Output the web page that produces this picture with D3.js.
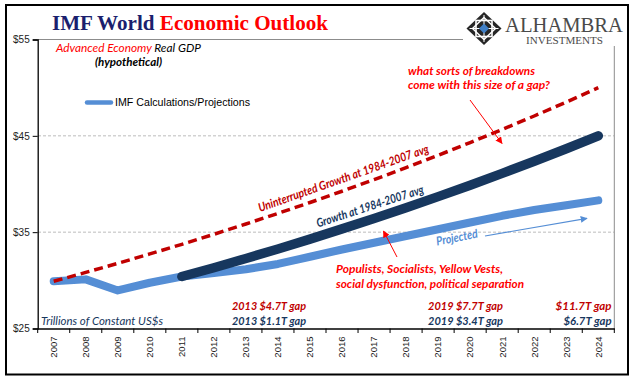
<!DOCTYPE html>
<html><head><meta charset="utf-8">
<script src="https://cdn.jsdelivr.net/npm/d3@7"></script>
<style>body{margin:0;background:#fff;} svg{display:block;}</style>
</head><body>
<script>
// ---- data ----
const years = ["2007","2008","2009","2010","2011","2012","2013","2014","2015","2016","2017","2018","2019","2020","2021","2022","2023","2024"];
const imfProjection = [29.9,30.1,28.95,29.75,30.4,30.75,31.15,31.7,32.45,33.2,33.9,34.6,35.3,36.0,36.7,37.3,37.8,38.3];
const growthAvg = [null,null,null,null,30.4,31.31,32.27,33.26,34.28,35.34,36.42,37.54,38.69,39.88,41.10,42.36,43.66,45.0];
const uninterrupted = [29.9,30.82,31.76,32.74,33.74,34.78,35.85,36.95,38.08,39.25,40.45,41.70,42.98,44.30,45.66,47.06,48.50,50.0];
const yTicks = [25,35,45,55];
const gapLabels2013 = ["2013 $4.7T gap","2013 $1.1T gap"];
const gapLabels2019 = ["2019 $7.7T gap","2019 $3.4T gap"];
const gapLabels2024 = ["$11.7T gap","$6.7T gap"];

const W=641,H=381;
const C = {light:"#558ED5", navy:"#17375E", red:"#C00000", bright:"#FF0000", title:"#1B1F6E"};
const svg = d3.select("body").append("svg").attr("width",W).attr("height",H);

const x = d3.scaleBand().domain(years).range([37.7,614.3]).paddingInner(0).paddingOuter(0);
const xc = d => x(d)+x.bandwidth()/2;
const y = d3.scaleLinear().domain([25,55]).range([328.5,39.5]);

const defs = svg.append("defs");
function marker(id,color){
  defs.append("marker").attr("id",id).attr("viewBox","0 0 10 10").attr("refX",9).attr("refY",5)
   .attr("markerWidth",7).attr("markerHeight",7).attr("markerUnits","userSpaceOnUse").attr("orient","auto")
   .append("path").attr("d","M0,0 L10,5 L0,10 z").attr("fill",color);
}
marker("arrRed",C.bright); marker("arrBlue",C.light);

// outer border
svg.append("rect").attr("x",6).attr("y",5).attr("width",622).attr("height",369.5)
  .attr("fill","none").attr("stroke","#000").attr("stroke-width",2);

// gridlines
svg.append("g").selectAll("line").data([35,45]).join("line")
  .attr("x1",38).attr("x2",614).attr("y1",d=>y(d)).attr("y2",d=>y(d))
  .attr("stroke","#bdbdbd").attr("stroke-dasharray","3,2").attr("stroke-width",1);
// plot frame top/right
svg.append("line").attr("x1",38).attr("x2",614.3).attr("y1",y(55)).attr("y2",y(55)).attr("stroke","#8c8c8c");
svg.append("line").attr("x1",614.3).attr("x2",614.3).attr("y1",y(55)).attr("y2",y(25)).attr("stroke","#8c8c8c");

// y axis
const ya = svg.append("g").attr("transform","translate(37.7,0)")
  .call(d3.axisLeft(y).tickValues(yTicks).tickFormat(d=>"$"+d).tickSize(5).tickPadding(3));
ya.select(".domain").attr("stroke","#000").attr("stroke-width",1.3);
ya.selectAll(".tick line").attr("stroke","#000");
ya.selectAll("text").attr("font-family","Liberation Sans, Arial").attr("font-size",10).attr("fill","#222");

// x axis
const xa = svg.append("g").attr("transform","translate(0,328.5)")
  .call(d3.axisBottom(x).tickSize(0).tickSizeOuter(0));
xa.select(".domain").attr("stroke","#000").attr("stroke-width",1.3);
xa.selectAll("text").attr("font-family","Liberation Sans, Arial").attr("font-size",9.5).attr("fill","#222")
  .attr("transform","rotate(-90)").attr("text-anchor","end").attr("x",-8).attr("y",0).attr("dy","0.35em");
svg.append("g").selectAll("line").data(years.concat(["end"])).join("line")
  .attr("x1",d=>d==="end"?x.range()[1]:x(d)).attr("x2",d=>d==="end"?x.range()[1]:x(d))
  .attr("y1",328.5).attr("y2",333).attr("stroke","#000");

// series
const line = d3.line().defined(d=>d.v!=null).x(d=>xc(d.year)).y(d=>y(d.v));
const mk = arr => years.map((yr,i)=>({year:yr,v:arr[i]}));
svg.append("path").datum(mk(imfProjection)).attr("d",line).attr("fill","none")
  .attr("stroke",C.light).attr("stroke-width",8).attr("stroke-linecap","round").attr("stroke-linejoin","round");
svg.append("path").datum(mk(growthAvg)).attr("d",line).attr("fill","none")
  .attr("stroke",C.navy).attr("stroke-width",9.5).attr("stroke-linecap","round").attr("stroke-linejoin","round");
svg.append("path").datum(mk(uninterrupted)).attr("d",line).attr("fill","none")
  .attr("stroke",C.red).attr("stroke-width",3.5).attr("stroke-dasharray","9,5");

// text helper
function txt(xp,yp,s,o){
  o=o||{};
  const t = svg.append("text").attr("x",xp).attr("y",yp).text(s)
    .attr("font-family",o.family||"Lato, Liberation Sans, sans-serif")
    .attr("font-size",o.size||12).attr("fill",o.fill||"#000")
    .attr("font-style",o.style||"italic").attr("font-weight",o.weight||"bold")
    .attr("text-anchor",o.anchor||"start");
  if(o.len) t.attr("textLength",o.len).attr("lengthAdjust","spacingAndGlyphs");
  if(o.rot!=null) t.attr("transform",`rotate(${o.rot},${xp},${yp})`);
  return t;
}

// title
const tt = svg.append("text").attr("x",52).attr("y",30).attr("font-family","Liberation Serif, Times New Roman, serif")
  .attr("font-size",22).attr("font-weight","bold").attr("textLength",276).attr("lengthAdjust","spacingAndGlyphs");
tt.append("tspan").text("IMF World ").attr("fill",C.title);
tt.append("tspan").text("Economic Outlook").attr("fill",C.bright);

// subtitle
const st = svg.append("text").attr("x",56).attr("y",52).attr("font-family","Lato, Liberation Sans, sans-serif")
  .attr("font-size",12).attr("font-style","italic").attr("textLength",145).attr("lengthAdjust","spacingAndGlyphs");
st.append("tspan").text("Advanced Economy").attr("fill",C.bright);
st.append("tspan").text(" Real GDP").attr("fill","#000");
txt(95,65.5,"(hypothetical)",{size:12,len:67});

// legend
svg.append("line").attr("x1",87).attr("x2",111).attr("y1",102.5).attr("y2",102.5)
  .attr("stroke",C.light).attr("stroke-width",4.5).attr("stroke-linecap","round");
txt(115,106,"IMF Calculations/Projections",{family:"Liberation Sans, Arial",size:10.5,style:"normal",weight:"normal",len:135});

// logo
const lg = svg.append("g");
lg.append("rect").attr("x",463).attr("y",7).attr("width",163).attr("height",39).attr("fill","#fff");
const cx=484, cy=28.5, rx=17.5, ry=16.5;
lg.append("polygon").attr("points",`${cx},${cy-ry} ${cx+rx},${cy} ${cx},${cy+ry} ${cx-rx},${cy}`).attr("fill","#262626");
lg.append("rect").attr("x",cx-8).attr("y",cy-8).attr("width",16).attr("height",16).attr("fill","none").attr("stroke","#fff").attr("stroke-width",1.6);
lg.append("polygon").attr("points",`${cx},${cy-11} ${cx+11.5},${cy} ${cx},${cy+11} ${cx-11.5},${cy}`).attr("fill","none").attr("stroke","#fff").attr("stroke-width",1.4);
lg.append("line").attr("x1",cx-rx+3).attr("x2",cx+rx-3).attr("y1",cy).attr("y2",cy).attr("stroke","#fff").attr("stroke-width",1);
lg.append("line").attr("x1",cx).attr("x2",cx).attr("y1",cy-ry+3).attr("y2",cy+ry-3).attr("stroke","#fff").attr("stroke-width",1);
lg.append("polygon").attr("points",`${cx},${cy-5} ${cx+5},${cy} ${cx},${cy+5} ${cx-5},${cy}`).attr("fill","#3F7FC6");
txt(505,32,"ALHAMBRA",{family:"Liberation Serif, Times New Roman, serif",size:20,style:"normal",weight:"normal",fill:"#4a4a4a",len:118});
txt(526,43.5,"INVESTMENTS",{family:"Liberation Serif, Times New Roman, serif",size:9.5,style:"normal",weight:"normal",fill:"#4a4a4a",len:77});

// annotations
txt(408,75,"what sorts of breakdowns",{fill:C.bright,len:127});
txt(408,88.5,"come with this size of a gap?",{fill:C.bright,len:142});
svg.append("line").attr("x1",470).attr("y1",100).attr("x2",502).attr("y2",143.5)
  .attr("stroke",C.bright).attr("stroke-width",1).attr("marker-end","url(#arrRed)");

txt(260,212,"Uninterrupted Growth at 1984-2007 avg",{fill:C.red,size:12,len:180,rot:-19.4});
txt(318,227.5,"Growth at 1984-2007 avg",{fill:C.navy,size:12,len:112,rot:-18});
txt(437,245.5,"Projected",{fill:C.light,size:12,len:42,rot:-11});
svg.append("line").attr("x1",485).attr("y1",236).attr("x2",587).attr("y2",218.3)
  .attr("stroke",C.light).attr("stroke-width",1.2).attr("marker-end","url(#arrBlue)");

svg.append("line").attr("x1",397).attr("y1",257).attr("x2",383.5).attr("y2",231)
  .attr("stroke",C.bright).attr("stroke-width",1).attr("marker-end","url(#arrRed)");
txt(336,273,"Populists, Socialists, Yellow Vests,",{fill:C.bright,len:167});
txt(336,288,"social dysfunction, political separation",{fill:C.bright,len:188});

txt(232,310,gapLabels2013[0],{fill:C.red,len:74});
txt(232,325,gapLabels2013[1],{fill:C.navy,len:74});
txt(428,310,gapLabels2019[0],{fill:C.red,len:75});
txt(428,325,gapLabels2019[1],{fill:C.navy,len:75});
txt(611.5,310,gapLabels2024[0],{fill:C.red,anchor:"end",len:56});
txt(611.5,325,gapLabels2024[1],{fill:C.navy,anchor:"end",len:48});
txt(41,325,"Trillions of Constant  US$s",{fill:C.navy,weight:"normal",len:122});
</script>
</body></html>
